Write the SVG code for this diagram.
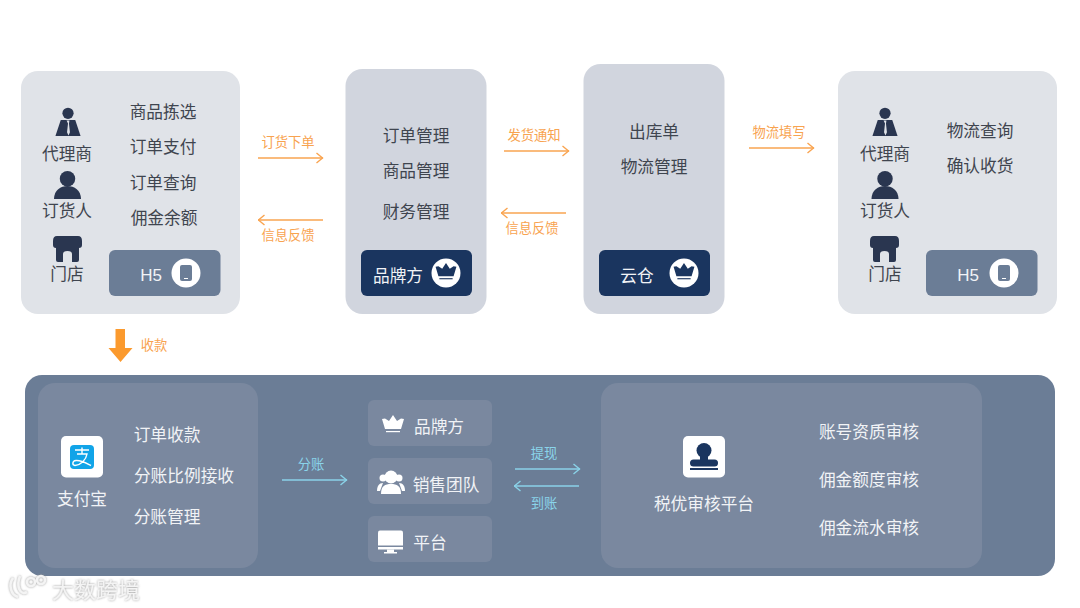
<svg xmlns="http://www.w3.org/2000/svg" width="1080" height="608" viewBox="0 0 1080 608">
<style>
text{font-family:"Noto Sans CJK SC","Liberation Sans",sans-serif;font-size:16.7px;fill:#3f454f;text-anchor:middle;dominant-baseline:central}
.w{fill:#f1f3f6}
.sm{font-size:13.300px;fill:#f8a350}
.cy{font-size:13.300px;fill:#8ad4ea}
.o{fill:none;stroke:#f9a450;stroke-width:1.400}
.c{fill:none;stroke:#8ad2e8;stroke-width:1.400}
.pale{fill:#e0e3e8}
.mid{fill:#d1d5de}
.inner{fill:#7a889f}
.chip{fill:#7a889f}
.navy{fill:#1a355f}
.slate{fill:#6b7d96}
</style>
<defs>
<symbol id="agent" viewBox="0 0 26 30" overflow="visible"><circle cx="13" cy="5.500" r="5.800" fill="#2a3650"/><path d="M5.500 12.500H20.500L26 29H0Z" fill="#2a3650"/><path d="M11.500 13h3l-.5 3 1 9-1.500 3.500-1.500-3.500 1-9z" fill="#e0e3e8"/></symbol>
<symbol id="person" viewBox="0 0 28 29" overflow="visible"><circle cx="14" cy="8" r="8" fill="#2a3650"/><path d="M0 29C0 20 7 15.500 14 15.500S28 20 28 29Z" fill="#2a3650"/></symbol>
<symbol id="store" viewBox="0 0 29 26" overflow="visible"><path d="M4 0H25Q29 0 29 5V9Q29 12 26 12V24Q26 26 24 26H19V18Q19 15 14.500 15T10 18V26H5Q3 26 3 24V12Q0 12 0 9V5Q0 0 4 0Z" fill="#2a3650"/></symbol>
<symbol id="crown" viewBox="0 0 22 19" overflow="visible"><path d="M11 0L15 6 19 3.500 22 4 19 14H3L0 4 3 3.500 7 6Z"/><rect x="4" y="16" width="14" height="1.200"/></symbol>
<symbol id="tablet" viewBox="0 0 12 16" overflow="visible"><rect width="12" height="16" rx="2" fill="#6b7d96"/><rect x="4" y="13" width="4" height="1" fill="#fff"/></symbol>
<marker id="ao" viewBox="0 0 8 12" refX="7.500" refY="6" markerWidth="8" markerHeight="12" markerUnits="userSpaceOnUse" orient="auto-start-reverse"><path d="M1 1L7 6 1 11" fill="none" stroke="#f9a450" stroke-width="1.400"/></marker>
<marker id="ac" viewBox="0 0 8 12" refX="7.500" refY="6" markerWidth="8" markerHeight="12" markerUnits="userSpaceOnUse" orient="auto-start-reverse"><path d="M1 1L7 6 1 11" fill="none" stroke="#8ad2e8" stroke-width="1.400"/></marker>
<filter id="ws" x="-10%" y="-30%" width="120%" height="160%"><feDropShadow dx="0" dy="0" stdDeviation="1.200" flood-color="#8c8c8c" flood-opacity=".9"/></filter>
</defs>
<rect width="1080" height="608" fill="#fff"/>

<g id="node-agent-left">
<rect class="pale" x="21" y="71" width="219" height="243" rx="17"/>
<use href="#agent" x="55" y="108" width="26" height="29"/>
<text x="67" y="153">代理商</text>
<use href="#person" x="53.500" y="171" width="28" height="28"/>
<text x="67" y="209.500">订货人</text>
<use href="#store" x="53" y="236" width="29" height="26"/>
<text x="67" y="272.500">门店</text>
<text x="163" y="110.500">商品拣选</text>
<text x="163" y="145.500">订单支付</text>
<text x="163" y="181.500">订单查询</text>
<text x="164" y="216.500">佣金余额</text>
<rect class="slate" x="109" y="250" width="111.500" height="46" rx="6"/>
<text class="w" x="151" y="275.500" style="font-family:'Liberation Sans',sans-serif;font-size:17px">H5</text>
<circle cx="186" cy="273" r="14.500" fill="#fff"/>
<use href="#tablet" x="180" y="265" width="12" height="16"/>
</g>

<g id="node-brand">
<rect class="mid" x="345.500" y="69" width="141" height="245" rx="17"/>
<text x="416" y="134.500">订单管理</text>
<text x="416" y="169.500">商品管理</text>
<text x="416" y="210.500">财务管理</text>
<rect class="navy" x="361" y="250" width="111" height="46" rx="6"/>
<text class="w" x="398" y="275">品牌方</text>
<circle cx="446" cy="273" r="14.500" fill="#fff"/>
<use href="#crown" x="435.500" y="263" width="21" height="18" fill="#1a355f"/>
</g>

<g id="node-warehouse">
<rect class="mid" x="583.500" y="64" width="141" height="250" rx="17"/>
<text x="654" y="130.500">出库单</text>
<text x="654" y="165.500">物流管理</text>
<rect class="navy" x="599" y="250" width="111" height="46" rx="6"/>
<text class="w" x="637" y="275">云仓</text>
<circle cx="684" cy="273" r="14.500" fill="#fff"/>
<use href="#crown" x="673.500" y="263" width="21" height="18" fill="#1a355f"/>
</g>

<g id="node-agent-right">
<rect class="pale" x="838" y="71" width="219" height="243" rx="17"/>
<use href="#agent" x="872" y="108" width="26" height="29"/>
<text x="885" y="152.500">代理商</text>
<use href="#person" x="871" y="171" width="28" height="28"/>
<text x="885" y="209.500">订货人</text>
<use href="#store" x="870" y="236" width="29" height="26"/>
<text x="885" y="272.500">门店</text>
<text x="980" y="129.500">物流查询</text>
<text x="980" y="164.500">确认收货</text>
<rect class="slate" x="926" y="250" width="111.500" height="46" rx="6"/>
<text class="w" x="968" y="275.500" style="font-family:'Liberation Sans',sans-serif;font-size:17px">H5</text>
<circle cx="1004" cy="273" r="14.500" fill="#fff"/>
<use href="#tablet" x="998" y="265" width="12" height="16"/>
</g>

<g id="node-platform-band">
<rect class="slate" x="25" y="375" width="1030" height="201" rx="17"/>
</g>

<g id="node-alipay">
<rect class="inner" x="38" y="383" width="220" height="185" rx="17"/>
<rect x="61" y="436" width="42" height="41.500" rx="5" fill="#fff"/>
<rect x="70" y="445" width="24" height="24" rx="4" fill="#11a4e8"/>
<path d="M75 450H89M82 447.500V454M77 454H87C86 460 81 465 75 465.500C72 465 72 461 76 460.500C81 460 86 463 91 465.500" fill="none" stroke="#fff" stroke-width="1.400"/>
<text class="w" x="82" y="497.500">支付宝</text>
<text class="w" x="167" y="433.500">订单收款</text>
<text class="w" x="184" y="474.500">分账比例接收</text>
<text class="w" x="167" y="515.500">分账管理</text>
</g>

<g id="node-chip-brand">
<rect class="chip" x="368" y="400" width="124" height="46" rx="6"/>
<use href="#crown" x="382" y="415" width="22" height="19" fill="#fff"/>
<text class="w" x="439" y="425.500">品牌方</text>
</g>
<g id="node-chip-sales">
<rect class="chip" x="368" y="458" width="124" height="46" rx="6"/>
<g fill="#fff"><circle cx="391" cy="477" r="6.500"/><path d="M381 494C381 486 385 484 391 484S401 486 401 494Z"/><circle cx="383" cy="478" r="3.500"/><path d="M377 491C377 486 379 483 383 483L380 491Z"/><circle cx="399" cy="478" r="3.500"/><path d="M405 491C405 486 403 483 399 483L402 491Z"/></g>
<text class="w" x="446" y="483.500">销售团队</text>
</g>
<g id="node-chip-platform">
<rect class="chip" x="368" y="516" width="124" height="46" rx="6"/>
<g fill="#fff"><path d="M380 530.500H401Q403 530.500 403 532.500V545.500H378V532.500Q378 530.500 380 530.500Z"/><rect x="378" y="547" width="25" height="2.500"/><rect x="387" y="549.500" width="7" height="2.500"/><rect x="384" y="552" width="13" height="1.500"/></g>
<text class="w" x="430" y="541.500">平台</text>
</g>

<g id="node-tax">
<rect class="inner" x="601" y="383" width="381" height="185" rx="17"/>
<rect x="683" y="436" width="42" height="41.500" rx="5" fill="#fff"/>
<g fill="#1a355f"><circle cx="704" cy="450.500" r="7.500"/><rect x="690" y="459.500" width="28" height="7" rx="3.500"/><rect x="690" y="468" width="28" height="2"/><rect x="700" y="455" width="8" height="6"/></g>
<text class="w" x="704" y="502.500">税优审核平台</text>
<text class="w" x="869" y="430.500">账号资质审核</text>
<text class="w" x="869" y="478.500">佣金额度审核</text>
<text class="w" x="869" y="526.500">佣金流水审核</text>
</g>

<g id="connectors">
<text class="sm" x="288" y="141.500">订货下单</text>
<path class="o" marker-end="url(#ao)" d="M258 158H323"/>
<path class="o" marker-end="url(#ao)" d="M323 220H258"/>
<text class="sm" x="288" y="234.500">信息反馈</text>
<text class="sm" x="534" y="134">发货通知</text>
<path class="o" marker-end="url(#ao)" d="M504 151H569"/>
<path class="o" marker-end="url(#ao)" d="M566 213H501"/>
<text class="sm" x="532" y="227.500">信息反馈</text>
<text class="sm" x="779" y="131">物流填写</text>
<path class="o" marker-end="url(#ao)" d="M749 148H814"/>
<path d="M115.500 329H125V348H132.500L120.500 362 108.500 348H115.500Z" fill="#fb9a2e"/>
<text class="sm" x="154" y="344">收款</text>
<text class="cy" x="311" y="463.500">分账</text>
<path class="c" marker-end="url(#ac)" d="M282 480H347"/>
<text class="cy" x="544" y="452">提现</text>
<path class="c" marker-end="url(#ac)" d="M515 469H580"/>
<path class="c" marker-end="url(#ac)" d="M579 486H514"/>
<text class="cy" x="544" y="502">到账</text>
</g>

<g id="watermark" filter="url(#ws)">
<g fill="none" stroke="#f4f4f4" stroke-width="2.600"><path d="M13 578C8 585 11 595 18 597"/><path d="M20 576C16 586 20 596 27 592"/><circle cx="31" cy="582" r="4"/><circle cx="41" cy="580" r="4"/></g>
<text x="96" y="588" style="font-size:22px;fill:#f4f4f4">大数跨境</text>
</g>
</svg>
